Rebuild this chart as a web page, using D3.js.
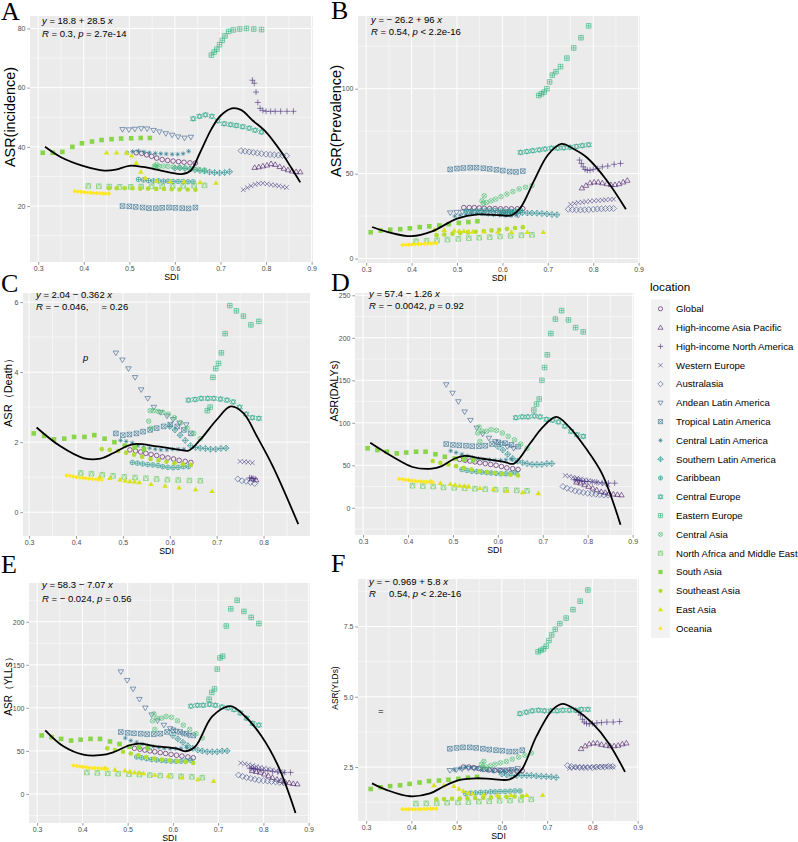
<!DOCTYPE html>
<html>
<head>
<meta charset="utf-8">
<script src="https://cdn.jsdelivr.net/npm/d3@7"></script>
<style>
body { margin: 0; background: #fff; }
svg { display: block; font-family: "Liberation Sans", Arial, sans-serif; }
</style>
</head>
<body>
<svg width="798" height="842"></svg>
<script>
// locations, in legend order (viridis colour order too)
const locations = ["Global", "High-income Asia Pacific", "High-income North America", "Western Europe",
  "Australasia", "Andean Latin America", "Tropical Latin America", "Central Latin America",
  "Southern Latin America", "Caribbean", "Central Europe", "Eastern Europe", "Central Asia",
  "North Africa and Middle East", "South Asia", "Southeast Asia", "East Asia", "Oceania"];

// SDI of each location over the years (same in every panel)
const sdi = [
  [0.515,0.527,0.538,0.549,0.56,0.572,0.584,0.596,0.608,0.62,0.633,0.645],
  [0.775,0.784,0.793,0.802,0.811,0.82,0.83,0.839,0.848,0.857,0.866,0.875],
  [0.770,0.774,0.778,0.782,0.787,0.793,0.80,0.81,0.82,0.832,0.846,0.86],
  [0.750,0.759,0.767,0.776,0.784,0.793,0.802,0.811,0.82,0.828,0.837,0.845],
  [0.745,0.754,0.763,0.772,0.781,0.79,0.80,0.809,0.818,0.827,0.836,0.845],
  [0.485,0.499,0.512,0.526,0.539,0.553,0.566,0.58,0.594,0.607,0.621,0.635],
  [0.485,0.50,0.514,0.529,0.543,0.558,0.572,0.587,0.601,0.616,0.63,0.645],
  [0.495,0.507,0.52,0.532,0.544,0.557,0.569,0.581,0.594,0.606,0.618,0.63],
  [0.60,0.611,0.622,0.633,0.644,0.655,0.665,0.676,0.687,0.698,0.709,0.72],
  [0.52,0.531,0.542,0.553,0.564,0.575,0.585,0.596,0.607,0.618,0.629,0.64],
  [0.64,0.654,0.667,0.681,0.694,0.708,0.722,0.735,0.749,0.763,0.776,0.79],
  [0.68,0.686,0.692,0.698,0.704,0.71,0.718,0.728,0.742,0.757,0.773,0.79],
  [0.56,0.555,0.558,0.565,0.575,0.585,0.597,0.61,0.623,0.637,0.651,0.665],
  [0.41,0.433,0.456,0.479,0.503,0.526,0.549,0.572,0.595,0.618,0.642,0.665],
  [0.31,0.332,0.353,0.375,0.396,0.418,0.439,0.461,0.482,0.504,0.525,0.545],
  [0.455,0.472,0.49,0.507,0.524,0.541,0.559,0.576,0.593,0.61,0.628,0.645],
  [0.45,0.472,0.494,0.505,0.515,0.525,0.535,0.56,0.59,0.62,0.655,0.69],
  [0.38,0.387,0.394,0.401,0.408,0.415,0.421,0.428,0.435,0.442,0.448,0.455]
];

const incidence = [
  [38,37.8,37.3,36.8,36.2,35.7,35.4,35.2,35,34.8,34.6,34.5],
  [33,33.2,33.5,33.8,34.3,34,33.3,32.7,32.2,31.8,31.6,31.5],
  [62.5,61.5,58.5,55,53,52.3,52,52,52,52,52,52],
  [25.5,26.2,26.8,27.3,27.6,27.7,27.5,27.2,27,26.8,26.5,26.3],
  [38.7,38.5,38.3,38.1,37.9,37.7,37.5,37.4,37.3,37.2,37.1,37],
  [45.9,45.8,46,46.2,46.1,45.6,45.1,44.5,44,43.4,43,43.3],
  [20,19.9,19.7,19.5,19.3,19.3,19.4,19.5,19.4,19.3,19.2,19.5],
  [38,38.4,38.6,38.3,38,37.8,37.7,37.6,37.5,37.5,37.7,38.5],
  [32.8,32.9,32.7,32.5,32.3,32,31.8,31.5,31.3,31.2,31.3,31.6],
  [29,28.8,28.6,28.5,28.5,28.4,28.4,28.3,28.3,28.3,28.2,28.2],
  [49.5,50.3,50.8,50.3,48.8,47.8,47.5,47.2,46.8,46.3,45.6,45],
  [71,72,73,74.5,76,77.5,79,79.5,79.8,80,79.8,79.6],
  [34,33.5,33.2,33.4,33.5,33.4,33.2,33,32.8,32.6,32.4,32.2],
  [26.8,26.7,26.6,26.5,26.5,26.6,26.7,26.7,26.8,26.8,26.9,27],
  [38,38,38.3,40,41.2,41.8,42.3,42.6,42.8,42.9,43,43],
  [26,26,26,26,25.9,25.9,25.8,25.8,25.7,25.6,25.6,25.5],
  [38,38,38,37,34.5,31.5,29.5,28.5,28.3,28.2,28,27.8],
  [25,24.9,24.8,24.7,24.6,24.5,24.4,24.3,24.3,24.2,24.2,24.2]
];

const prevalence = [
  [30,30,30,29.8,29.6,29.5,29.4,29.3,29.3,29.3,29.3,29.4],
  [41.5,43,44.5,45,45,44.5,44,43.5,43.5,44,45,46],
  [58,56,54,52.5,52,52,52.5,53,54,54.5,55.5,56],
  [32,32.5,33,33.2,33.5,33.8,34,34.2,34.4,34.6,34.8,35],
  [29,28.8,28.7,28.6,28.7,28.8,29,29.2,29.3,29.4,29.5,29.5],
  [27,27.3,27.5,27.5,27.3,27,26.8,26.5,26.3,26,25.8,25.5],
  [52.5,53,53.3,53.5,53.5,53.2,52.8,52.3,51.8,51.2,51,51.5],
  [25,25.5,26,26.5,26.5,26.3,26,25.8,25.6,25.5,25.5,25.5],
  [27,27.2,27.3,27.2,27,26.8,26.8,26.7,26.5,26.3,26,25.8],
  [28,28,28.2,28.3,28.5,28.5,28.3,28,27.8,27.8,28,28.5],
  [62.5,63,63.5,64,64.5,65,65,65.2,65.5,66,66.5,67],
  [96,97,98,100,104,108,110,113,118,124,130,137],
  [37,34,32.5,33,34,35,36.5,38,39.5,41,42,43],
  [10.2,10.5,10.8,11.2,11.6,12,12.3,12.6,13,13.4,13.8,14],
  [15.5,16.5,17,17.3,17.8,18.5,19,19.5,20.3,21,21.5,22],
  [13.8,14.2,14.6,15,15.4,15.8,16.2,16.6,17,17.5,18,18.5],
  [17,16.8,16.5,16.3,16.2,16,15.9,15.8,15.7,15.6,15.5,15.5],
  [8,8.1,8.2,8.3,8.4,8.5,8.6,8.7,8.8,8.9,9,9]
];

// null = not drawn in the death panel
const death = [
  [1.78,1.75,1.72,1.68,1.65,1.62,1.58,1.55,1.52,1.48,1.45,1.42],
  [0.95,0.92,null,null,null,null,null,null,null,null,null,null],
  [0.98,0.97,0.96,0.95,null,null,null,null,null,null,null,null],
  [1.45,1.44,1.43,1.41,null,null,null,null,null,null,null,null],
  [0.95,0.9,0.88,0.85,0.82,null,null,null,null,null,null,null],
  [4.55,4.35,4.1,3.85,3.5,3.25,3.0,2.85,2.75,2.65,2.55,2.5],
  [2.25,2.2,2.22,2.25,2.3,2.35,2.4,2.45,2.5,2.45,2.35,2.25],
  [2.05,2.02,1.98,1.9,1.85,1.83,1.8,1.78,1.78,1.8,1.8,1.8],
  [2.45,2.35,2.2,2.05,1.9,1.85,1.83,1.82,1.8,1.8,1.82,1.83],
  [1.42,1.4,1.38,1.36,1.35,1.33,1.3,1.28,1.27,1.28,1.3,1.3],
  [3.2,3.22,3.25,3.25,3.25,3.23,3.2,3.15,3.0,2.8,2.7,2.68],
  [2.9,3.0,3.85,4.1,4.25,4.55,5.1,5.9,5.75,5.6,5.35,5.45],
  [2.4,2.6,2.9,2.9,2.88,2.85,2.8,2.7,2.55,2.4,2.25,2.1],
  [1.12,1.1,1.07,1.04,1.01,0.99,0.97,0.95,0.93,0.92,0.91,0.9],
  [2.25,2.18,2.08,2.1,2.15,2.15,2.2,2.1,2.0,1.9,1.85,1.8],
  [1.8,1.78,1.75,1.7,1.64,1.58,1.52,1.48,1.44,1.4,1.37,1.35],
  [1.0,0.97,0.93,0.9,0.88,0.87,0.85,0.8,0.75,0.7,0.65,0.6],
  [1.05,1.04,1.02,1.0,0.99,0.98,0.97,0.96,0.95,0.94,0.93,0.93]
];

const dalys = [
  [57,56,55,54,53,52,51,50,48.5,47,46,45],
  [30,29,27,25,23,21,19,18,17,16,15.5,15],
  [33,33,32.5,32,31.5,31,31,30.5,30,29.5,29,29],
  [38,37,36,35,34,33,32,31,30,29,28,27],
  [25,23,21.5,20,19,18,17,16.5,16,15.5,15,15],
  [145,135,125,113,103,94,87,82,78,75,72,70],
  [75,74,73.5,73,72.5,72.5,73,75,77,76,74,72],
  [67,65,63,61,59,58,57,56.5,56,56,56.5,57],
  [72,68,63,58,55,53,52,51,51,51,52,52],
  [45,44,43,42.5,42,41.5,41,40.5,40,40,40.5,41],
  [106,107,107,108,107,104,103,101,96,90,86,84],
  [115,122,128,150,165,180,205,222,232,221,212,207],
  [78,88,95,90,90,92,91,88,84,80,75,70],
  [26,25.5,25,24,23.5,23,22.5,22,21.5,21,20.5,20],
  [70,68,66,64,65,66,66,63,60,58,57,56],
  [55,53,51,49,47,45,43,42,41,40,39,38],
  [31,29,28,27,26,25.5,25,23,22,20,18,17],
  [34,33.5,33,32.5,32,31.5,31.2,31,30.8,30.5,30.3,30]
];

const ylls = [
  [53,52,51,50,49,48,47,46,45,44,43,42],
  [27,26,25,23,21,19,17,15.5,14,13,12,11.5],
  [30,30,29.5,29,28.5,28,27.5,27,26,25.5,25,25],
  [36,35,34,33,32,31,30,29,28,27,26,25],
  [22,20.5,19,18,17,16,15.5,15,14.5,14,13.5,13],
  [142,132,122,110,100,92,85,80,76,73,70,68],
  [72,71,70.5,70,69.5,69.5,70,72,74,72,70,68],
  [65,62,60,58,56,55,54,53,52.5,52.5,53,54],
  [68,64,60,56,53,51,50,49,49,49,50,50],
  [43,42,41,40,39.5,39,38.5,38,38,38,38.5,39],
  [102,103,103,104,103,101,100,98,94,88,82,80],
  [110,118,122,145,158,160,195,215,225,212,205,198],
  [75,85,93,88,88,90,89,85,80,75,70,65],
  [25,24.5,24,23.5,23,22.5,22,21.5,21,20.5,20,19],
  [68,66,64,62,63,64,64,61,58,55,54,53],
  [53,51,49,47,45,43,41,40,39,38,37,36],
  [30,28,27,26,25,24.5,24,22,21,19,17,15],
  [33,32.5,32,31.5,31,30.5,30.2,30,29.8,29.5,29.3,29]
];

const ylds = [
  [2.5,2.5,2.48,2.45,2.42,2.4,2.38,2.37,2.36,2.36,2.36,2.37],
  [3.15,3.25,3.32,3.35,3.35,3.3,3.27,3.25,3.25,3.27,3.32,3.35],
  [4.45,4.35,4.2,4.1,4.05,4.03,4.05,4.07,4.08,4.1,4.1,4.12],
  [2.45,2.47,2.5,2.5,2.5,2.5,2.5,2.5,2.52,2.52,2.52,2.5],
  [2.55,2.52,2.5,2.48,2.48,2.48,2.48,2.5,2.5,2.5,2.52,2.52],
  [2.38,2.4,2.43,2.45,2.45,2.43,2.42,2.4,2.4,2.4,2.42,2.45],
  [3.15,3.18,3.2,3.2,3.18,3.15,3.12,3.1,3.08,3.05,3.05,3.1],
  [2.4,2.45,2.5,2.48,2.45,2.4,2.38,2.35,2.35,2.36,2.38,2.4],
  [2.25,2.22,2.2,2.2,2.2,2.2,2.2,2.18,2.17,2.16,2.15,2.13],
  [1.55,1.57,1.58,1.6,1.6,1.62,1.62,1.63,1.63,1.64,1.65,1.65],
  [4.4,4.45,4.5,4.52,4.5,4.5,4.5,4.52,4.52,4.52,4.55,4.55],
  [6.6,6.65,6.7,6.8,7.0,7.2,7.4,7.6,7.8,8.1,8.4,8.8],
  [2.7,2.6,2.5,2.5,2.55,2.6,2.65,2.7,2.78,2.85,2.92,3.0],
  [1.2,1.21,1.22,1.23,1.24,1.25,1.27,1.28,1.3,1.31,1.33,1.35],
  [1.72,1.78,1.82,1.85,1.9,1.95,2.0,2.02,2.05,2.08,2.12,2.15],
  [1.35,1.36,1.37,1.38,1.39,1.4,1.41,1.42,1.43,1.44,1.45,1.46],
  [1.85,1.85,1.82,1.72,1.65,1.58,1.55,1.52,1.5,1.5,1.5,1.5],
  [1.0,1.0,1.0,1.0,1.0,1.0,1.0,1.01,1.01,1.02,1.02,1.02]
];

// smooth (loess) curves: [SDI, ASR]
const incidenceFit = [[0.315,40],[0.35,36.5],[0.40,33.5],[0.445,32],[0.47,32.3],[0.50,33.6],[0.53,33.2],[0.56,32.3],[0.59,31.3],[0.615,30.8],[0.635,32],[0.655,38],[0.68,46],[0.70,50.5],[0.725,53],[0.745,52.5],[0.77,49],[0.80,45],[0.83,39],[0.855,33],[0.875,28]];
const prevalenceFit = [[0.313,18.6],[0.35,15.5],[0.40,13.2],[0.445,16],[0.50,23.5],[0.546,26],[0.597,25.5],[0.62,25.5],[0.64,30],[0.67,46],[0.70,61],[0.73,67.5],[0.757,64.5],[0.786,59.5],[0.83,46],[0.872,29]];
const deathFit = [[0.316,2.42],[0.367,1.88],[0.417,1.54],[0.452,1.53],[0.48,1.69],[0.52,1.94],[0.573,1.88],[0.622,1.78],[0.64,1.76],[0.665,2.07],[0.70,2.64],[0.73,3.02],[0.757,2.83],[0.786,2.16],[0.82,1.3],[0.874,-0.34]];
const dalysFit = [[0.316,76.5],[0.366,60],[0.41,48],[0.453,46],[0.475,49],[0.504,58],[0.526,61],[0.563,58],[0.614,54],[0.636,52],[0.672,76],[0.70,95],[0.73,107],[0.759,95],[0.796,70],[0.832,40],[0.873,-20]];
const yllsFit = [[0.318,74],[0.358,55.4],[0.402,45.7],[0.439,45],[0.468,48.4],[0.504,56.6],[0.526,58.5],[0.563,55.4],[0.607,53],[0.628,49.6],[0.65,55.4],[0.687,90],[0.727,102],[0.76,90],[0.796,67],[0.833,32],[0.871,-22]];
const yldsFit = [[0.313,1.92],[0.346,1.68],[0.397,1.46],[0.441,1.56],[0.47,1.8],[0.507,2.04],[0.544,2.1],[0.58,2.07],[0.617,2.06],[0.643,2.39],[0.676,3.58],[0.712,4.54],[0.734,4.75],[0.763,4.54],[0.8,4.06],[0.836,3.35],[0.872,2.33]];

const sdiTicks = [0.3, 0.4, 0.5, 0.6, 0.7, 0.8, 0.9];

// ggplot shape codes 1..18, one per location
const shapeCodes = d3.range(1, 19);
const color = i => d3.interpolateViridis(i / 17);
const markR = 2.3;

const svg = d3.select("svg");
svg.append("rect").attr("width", 798).attr("height", 842).attr("fill", "#fff");

const panels = [
  { tag: "A", tagPos: [1, 20], values: incidence, fit: incidenceFit, title: "ASR(incidence)", tSize: 14.4, tX: 10, tY: 117,
    box: [30, 16, 313, 262], xDom: [0.282, 0.903], yDom: [1.1, 84.2], yTicks: [20, 40, 60, 80], fmt: d3.format("d"),
    eq: [[["y",1],[" = 18.8 + 28.5 ",0],["x",1]], [["R",1],[" = 0.3, ",0],["p",1],[" = 2.7e-14",0]]], eqPos: [42, 24, 37] },
  { tag: "B", tagPos: [331, 19], values: prevalence, fit: prevalenceFit, title: "ASR(Prevalence)", tSize: 14.5, tX: 336, tY: 121,
    box: [358, 16, 640, 263], xDom: [0.282, 0.903], yDom: [-2.6, 142.8], yTicks: [0, 50, 100], fmt: d3.format("d"),
    eq: [[["y",1],[" = \u2212 26.2 + 96 ",0],["x",1]], [["R",1],[" = 0.54, ",0],["p",1],[" < 2.2e-16",0]]], eqPos: [371, 23, 35] },
  { tag: "C", tagPos: [1, 292], values: death, fit: deathFit, title: "ASR\uFF08Death\uFF09", tSize: 11, tX: 8, tY: 390,
    box: [23, 293, 310, 536], xDom: [0.287, 0.899], yDom: [-0.68, 6.26], yTicks: [0, 2, 4, 6], fmt: d3.format("d"),
    eq: [[["y",1],[" = 2.04 \u2212 0.362 ",0],["x",1]], [["R",1],[" = \u2212 0.046,     = 0.26",0]]], eqPos: [36, 298, 310],
    stray: ["p", 83, 361] },
  { tag: "D", tagPos: [331, 291], values: dalys, fit: dalysFit, title: "ASR(DALYs)", tSize: 10.6, tX: 334, tY: 391,
    box: [355, 293, 634, 535], xDom: [0.282, 0.903], yDom: [-32, 252.7], yTicks: [0, 50, 100, 150, 200, 250], fmt: d3.format("d"),
    eq: [[["y",1],[" = 57.4 \u2212 1.26 ",0],["x",1]], [["R",1],[" = \u2212 0.0042, ",0],["p",1],[" = 0.92",0]]], eqPos: [369, 297, 309] },
  { tag: "E", tagPos: [1, 573], values: ylls, fit: yllsFit, title: "ASR\uFF08YLLs\uFF09", tSize: 10, tX: 8, tY: 684,
    box: [29, 583, 310, 823], xDom: [0.282, 0.903], yDom: [-33.7, 245], yTicks: [0, 50, 100, 150, 200], fmt: d3.format("d"),
    eq: [[["y",1],[" = 58.3 \u2212 7.07 ",0],["x",1]], [["R",1],[" = \u2212 0.024, ",0],["p",1],[" = 0.56",0]]], eqPos: [42, 588, 602] },
  { tag: "F", tagPos: [331, 572], values: ylds, fit: yldsFit, title: "ASR(YLDs)", tSize: 8.4, tX: 335, tY: 688,
    box: [358, 579, 639, 821], xDom: [0.282, 0.903], yDom: [0.58, 9.19], yTicks: [2.5, 5.0, 7.5], fmt: d3.format(".1f"),
    eq: [[["y",1],[" = \u2212 0.969 + 5.8 ",0],["x",1]], [["R",1],["     0.54, ",0],["p",1],[" < 2.2e-16",0]]], eqPos: [369, 585, 597],
    stray: ["=", 378, 714] }
];

function circ(r) {
  return `M${r},0A${r},${r} 0 1,1 ${-r},0A${r},${r} 0 1,1 ${r},0Z`;
}

// path for a ggplot point shape
function shapePath(code, r) {
  const t = r * 1.2, h = r * 0.8;
  const tri = `M0,${-t}L${t},${h}L${-t},${h}Z`;
  const triDown = `M0,${t}L${t},${-h}L${-t},${-h}Z`;
  const sq = `M${-r},${-r}H${r}V${r}H${-r}Z`;
  const plus = `M${-r},0H${r}M0,${-r}V${r}`;
  const k = r * 0.75;
  const cross = `M${-k},${-k}L${k},${k}M${-k},${k}L${k},${-k}`;
  const d = r * 1.3;
  const dia = `M0,${-d}L${d},0L0,${d}L${-d},0Z`;
  switch (code) {
    case 1: return circ(r);
    case 2: return tri;
    case 3: return `M${-d},0H${d}M0,${-d}V${d}`;
    case 4: return `M${-r},${-r}L${r},${r}M${-r},${r}L${r},${-r}`;
    case 5: return dia;
    case 6: return triDown;
    case 7: return sq + `M${-r},${-r}L${r},${r}M${-r},${r}L${r},${-r}`;
    case 8: return plus + cross;
    case 9: return dia + `M${-d},0H${d}M0,${-d}V${d}`;
    case 10: return circ(r) + plus;
    case 11: return tri + triDown;
    case 12: return sq + plus;
    case 13: return circ(r) + cross;
    case 14: return sq + `M${-r},${r}L0,${-r}L${r},${r}`;
    case 15: return sq;
    case 16: return circ(r);
    case 17: return tri;
    default: return `M0,${-r}L${r},0L0,${r}L${-r},0Z`;
  }
}

function drawMark(sel, code, col, r) {
  sel.attr("d", shapePath(code, r));
  if (code >= 15) sel.attr("fill", col).attr("stroke", "none");
  else sel.attr("fill", "none").attr("stroke", col).attr("stroke-width", 0.6);
}

// ggplot style minor breaks (halfway, also beyond the outer majors)
function minorBreaks(ticks, dom) {
  const step = ticks[1] - ticks[0];
  const out = [];
  for (let v = ticks[0] - step / 2; v <= ticks[ticks.length - 1] + step; v += step) {
    if (v >= dom[0] && v <= dom[1]) out.push(v);
  }
  return out;
}

panels.forEach(p => {
  const [x0, y0, x1, y1] = p.box;
  const x = d3.scaleLinear().domain(p.xDom).range([x0, x1]);
  const y = d3.scaleLinear().domain(p.yDom).range([y1, y0]);
  const xTicks = sdiTicks.filter(v => v >= p.xDom[0] && v <= p.xDom[1]);
  const g = svg.append("g");

  g.append("rect").attr("x", x0).attr("y", y0).attr("width", x1 - x0).attr("height", y1 - y0).attr("fill", "#EBEBEB");

  // grid
  g.selectAll(".ymin").data(minorBreaks(p.yTicks, p.yDom)).enter().append("line")
    .attr("x1", x0).attr("x2", x1).attr("y1", d => y(d)).attr("y2", d => y(d))
    .attr("stroke", "#fff").attr("stroke-width", 0.5);
  g.selectAll(".xmin").data(minorBreaks(xTicks, p.xDom)).enter().append("line")
    .attr("y1", y0).attr("y2", y1).attr("x1", d => x(d)).attr("x2", d => x(d))
    .attr("stroke", "#fff").attr("stroke-width", 0.5);
  g.selectAll(".ymaj").data(p.yTicks).enter().append("line")
    .attr("x1", x0).attr("x2", x1).attr("y1", d => y(d)).attr("y2", d => y(d))
    .attr("stroke", "#fff").attr("stroke-width", 1);
  g.selectAll(".xmaj").data(xTicks).enter().append("line")
    .attr("y1", y0).attr("y2", y1).attr("x1", d => x(d)).attr("x2", d => x(d))
    .attr("stroke", "#fff").attr("stroke-width", 1);

  // axes
  const yAxis = g.append("g").attr("transform", `translate(${x0},0)`)
    .call(d3.axisLeft(y).tickValues(p.yTicks).tickFormat(p.fmt).tickSize(2.7).tickPadding(1.8));
  const xAxis = g.append("g").attr("transform", `translate(0,${y1})`)
    .call(d3.axisBottom(x).tickValues(xTicks).tickFormat(d3.format(".1f")).tickSize(2.7).tickPadding(1.5));
  [yAxis, xAxis].forEach(a => {
    a.select(".domain").remove();
    a.selectAll(".tick line").attr("stroke", "#333").attr("stroke-width", 0.5);
    a.selectAll(".tick text").attr("fill", "#4D4D4D").style("font-size", "7px")
      .style("font-family", "'Liberation Sans', Arial, sans-serif");
  });

  // points
  p.values.forEach((vals, li) => {
    const pts = vals.map((v, j) => [sdi[li][j], v]).filter(d => d[1] !== null);
    g.selectAll(".pt" + li).data(pts).enter().append("path")
      .attr("transform", d => `translate(${x(d[0])},${y(d[1])})`)
      .each(function () { drawMark(d3.select(this), shapeCodes[li], color(li), markR); });
  });

  // smooth line
  g.append("path").datum(p.fit)
    .attr("d", d3.line().x(d => x(d[0])).y(d => y(d[1])).curve(d3.curveCatmullRom))
    .attr("fill", "none").attr("stroke", "#000").attr("stroke-width", 1.8);

  // equation
  p.eq.forEach((line, i) => {
    const t = g.append("text").attr("x", p.eqPos[0]).attr("y", p.eqPos[1 + i])
      .attr("fill", "#000").style("font-size", "9.5px").attr("xml:space", "preserve");
    line.forEach(seg => t.append("tspan").text(seg[0]).style("font-style", seg[1] ? "italic" : "normal"));
  });
  if (p.stray) {
    g.append("text").attr("x", p.stray[1]).attr("y", p.stray[2]).style("font-size", "9.5px")
      .style("font-style", p.stray[0] === "p" ? "italic" : "normal").text(p.stray[0]);
  }

  // titles
  g.append("text").attr("x", (x0 + x1) / 2).attr("y", y1 + 17.5).attr("text-anchor", "middle")
    .style("font-size", "8.8px").text("SDI");
  g.append("text").attr("transform", `translate(${p.tX},${p.tY}) rotate(-90)`).attr("text-anchor", "middle")
    .attr("dy", "0.35em").style("font-size", p.tSize + "px").text(p.title);
  svg.append("text").attr("x", p.tagPos[0]).attr("y", p.tagPos[1])
    .style("font-family", "'Liberation Serif', 'Times New Roman', serif").style("font-size", "26px")
    .text(p.tag);
});

// legend
const legend = svg.append("g");
legend.append("text").attr("x", 650).attr("y", 291).style("font-size", "11.7px").text("location");
legend.append("rect").attr("x", 651).attr("y", 299.5).attr("width", 19).attr("height", 18.8 * 18).attr("fill", "#F2F2F2");
locations.forEach((name, i) => {
  const cy = 308.8 + i * 18.8;
  legend.append("path").attr("transform", `translate(660.5,${cy})`)
    .call(s => drawMark(s, shapeCodes[i], color(i), 2.1));
  legend.append("text").attr("x", 676).attr("y", cy).attr("dy", "0.35em").style("font-size", "9.6px").text(name);
});
</script>
</body>
</html>
